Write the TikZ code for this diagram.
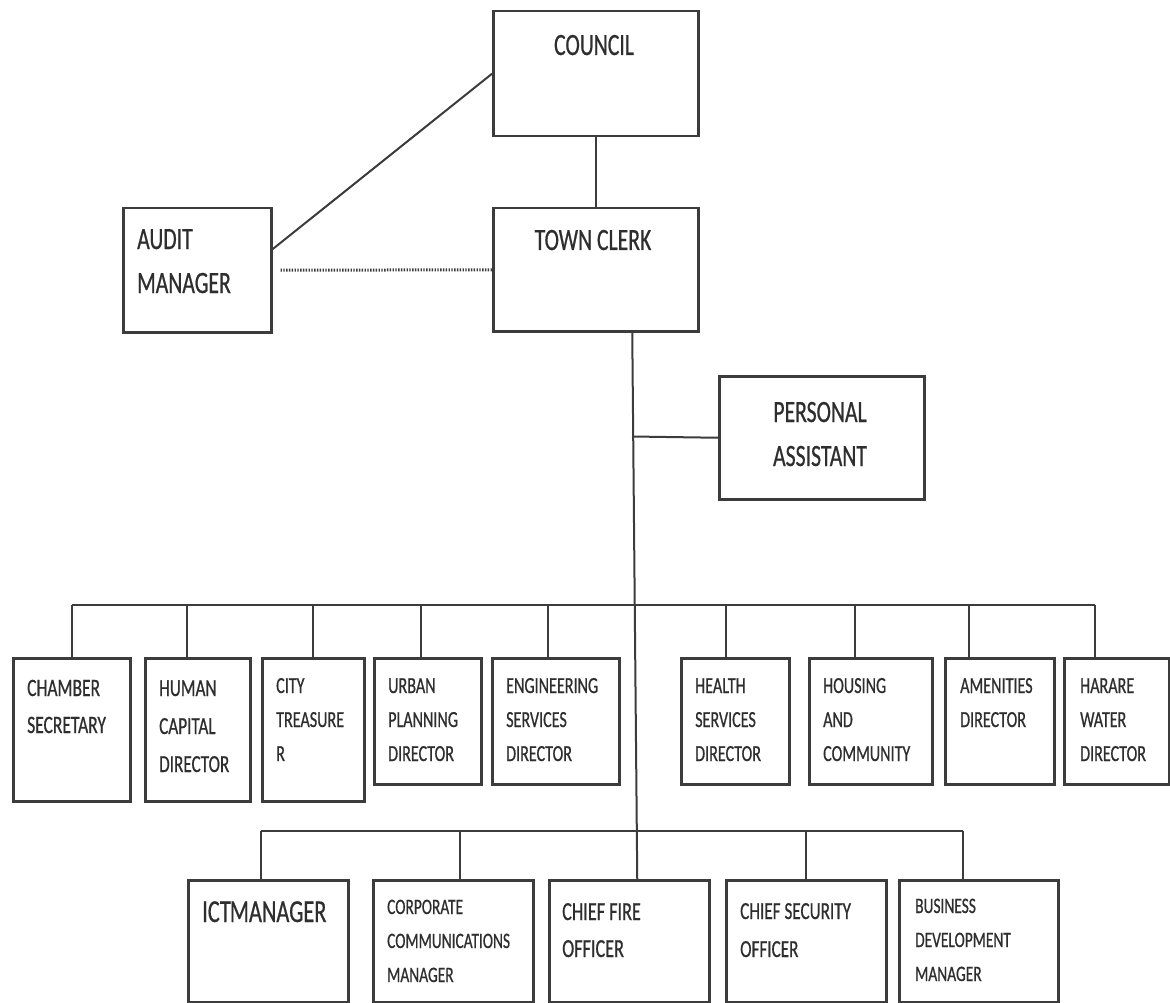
\documentclass[tikz,border=0pt]{standalone}
\usepackage{fontspec}
\setmainfont{Carlito}[FakeStretch=0.7,FakeBold=0.6]
\definecolor{edge}{HTML}{3C3C3C}
\definecolor{ink}{HTML}{2E2E2E}
\newcommand\fsTop{\fontsize{31}{44}\selectfont}
\newcommand\fsIct{\fontsize{32}{44}\selectfont}
\newcommand\fsBig{\fontsize{25}{37}\selectfont}
\newcommand\fsMid{\fontsize{23}{34}\selectfont}
\newcommand\fsSmall{\fontsize{22}{34}\selectfont}
\newcommand\ctr[1]{\hbox to 140pt{\hfil#1\hfil}}
\begin{document}
\begin{tikzpicture}[x=1pt,y=-1pt,
  box/.style={draw=edge,line width=2.5pt,fill=white,anchor=north west,inner sep=0pt},
  txt/.style={anchor=base west,inner sep=0pt,text=ink},
  ctxt/.style={anchor=base,inner sep=0pt,text=ink},
  link/.style={draw=edge,line width=2pt},
  dotlink/.style={draw=edge,line width=3pt,dash pattern=on 1.4pt off 1.4pt}]
\useasboundingbox (0,0) rectangle (1170,1003);

% top level boxes
\node[box,minimum width=205pt,minimum height=125pt] (council) at (492,10) {};
\node[box,minimum width=205pt,minimum height=123pt] (tc) at (492,207) {};
\node[box,minimum width=148pt,minimum height=124pt] (audit) at (122,207) {};
\node[box,minimum width=205pt,minimum height=123pt] (pa) at (718,375) {};

% directors
\node[box,minimum width=117pt,minimum height=143pt] (chamber) at (12,657) {};
\node[box,minimum width=105pt,minimum height=143pt] (human) at (144,657) {};
\node[box,minimum width=102pt,minimum height=143pt] (city) at (261,657) {};
\node[box,minimum width=107pt,minimum height=126pt] (urban) at (373,657) {};
\node[box,minimum width=127pt,minimum height=126pt] (eng) at (491,657) {};
\node[box,minimum width=108pt,minimum height=126pt] (health) at (680,657) {};
\node[box,minimum width=123pt,minimum height=126pt] (housing) at (808,657) {};
\node[box,minimum width=109pt,minimum height=126pt] (amen) at (944,657) {};
\node[box,minimum width=105pt,minimum height=126pt] (harare) at (1063,657) {};

% managers and officers
\node[box,minimum width=160pt,minimum height=122pt] (ict) at (187,879) {};
\node[box,minimum width=160pt,minimum height=122pt] (corp) at (372,879) {};
\node[box,minimum width=160pt,minimum height=122pt] (fire) at (548,879) {};
\node[box,minimum width=160pt,minimum height=122pt] (sec) at (725,879) {};
\node[box,minimum width=159pt,minimum height=122pt] (biz) at (898,879) {};

% labels
\node[ctxt,font=\fsTop] (councilT) at (594,55) {COUNCIL};
\node[ctxt,font=\fsTop] (tcT) at (593,250) {TOWN CLERK};
\node[txt,font=\fsTop] (auditT) at (137,249) {\vtop{\hbox{AUDIT}\hbox{MANAGER}}};
\node[ctxt,font=\fsTop] (paT) at (820,422) {\vtop{\ctr{PERSONAL}\ctr{ASSISTANT}}};

\node[txt,font=\fsBig] (chamberT) at (27,696) {\vtop{\hbox{CHAMBER}\hbox{SECRETARY}}};
\node[txt,font=\fontsize{24.5}{38}\selectfont] (humanT) at (159,696) {\vtop{\hbox{HUMAN}\hbox{CAPITAL}\hbox{DIRECTOR}}};
\node[txt,font=\fsMid] (cityT) at (276,693) {\vtop{\hbox{CITY}\hbox{TREASURE}\hbox{R}}};
\node[txt,font=\fsMid] (urbanT) at (388,693) {\vtop{\hbox{URBAN}\hbox{PLANNING}\hbox{DIRECTOR}}};
\node[txt,font=\fsMid] (engT) at (506,693) {\vtop{\hbox{ENGINEERING}\hbox{SERVICES}\hbox{DIRECTOR}}};
\node[txt,font=\fsMid] (healthT) at (695,693) {\vtop{\hbox{HEALTH}\hbox{SERVICES}\hbox{DIRECTOR}}};
\node[txt,font=\fsMid] (housingT) at (823,693) {\vtop{\hbox{HOUSING}\hbox{AND}\hbox{COMMUNITY}}};
\node[txt,font=\fsMid] (amenT) at (960,693) {\vtop{\hbox{AMENITIES}\hbox{DIRECTOR}}};
\node[txt,font=\fsMid] (harareT) at (1080,693) {\vtop{\hbox{HARARE}\hbox{WATER}\hbox{DIRECTOR}}};

\node[txt,font=\fsIct] (ictT) at (202,922) {ICT\kern-1pt MANAGER};
\node[txt,font=\fsSmall] (corpT) at (387,914) {\vtop{\hbox{CORPORATE}\hbox{COMMUNICATIONS}\hbox{MANAGER}}};
\node[txt,font=\fontsize{26}{37}\selectfont] (fireT) at (562,920) {\vtop{\hbox{CHIEF FIRE}\hbox{OFFICER}}};
\node[txt,font=\fontsize{24.5}{38}\selectfont] (secT) at (740,919) {\vtop{\hbox{CHIEF SECURITY}\hbox{OFFICER}}};
\node[txt,font=\fsSmall] (bizT) at (915,913) {\vtop{\hbox{BUSINESS}\hbox{DEVELOPMENT}\hbox{MANAGER}}};

% upper links
\draw[link] (council.south) -- (tc.north);
\draw[link] ([yshift=21pt]audit.east) -- (council.west);
\draw[dotlink] ([xshift=8pt]audit.east) -- (tc.west);

% main trunk and assistant branch
\draw[link] ([xshift=36.5pt]tc.south) -- ([xshift=8pt]fire.north);
\coordinate (pab) at (632,436.5);
\draw[link] (pab) -- (pa.west);

% directors bus
\coordinate (t1) at (72,605);
\coordinate (t2) at (187,605);
\coordinate (t3) at (313,605);
\coordinate (t4) at (421,605);
\coordinate (t5) at (548,605);
\coordinate (t6) at (726,605);
\coordinate (t7) at (855,605);
\coordinate (t8) at (969,605);
\coordinate (t9) at (1095,605);
\draw[link] (t1) -- (t9);
\draw[link] (t1) -- (t1 |- chamber.north);
\draw[link] (t2) -- (t2 |- human.north);
\draw[link] (t3) -- (t3 |- city.north);
\draw[link] (t4) -- (t4 |- urban.north);
\draw[link] (t5) -- (t5 |- eng.north);
\draw[link] (t6) -- (t6 |- health.north);
\draw[link] (t7) -- (t7 |- housing.north);
\draw[link] (t8) -- (t8 |- amen.north);
\draw[link] (t9) -- (t9 |- harare.north);

% managers bus
\coordinate (b1) at (261,831);
\coordinate (b2) at (460,831);
\coordinate (b4) at (806,831);
\coordinate (b5) at (963,831);
\draw[link] (b1) -- (b5);
\draw[link] (b1) -- (b1 |- ict.north);
\draw[link] (b2) -- (b2 |- corp.north);
\draw[link] (b4) -- (b4 |- sec.north);
\draw[link] (b5) -- (b5 |- biz.north);
\end{tikzpicture}
\end{document}
